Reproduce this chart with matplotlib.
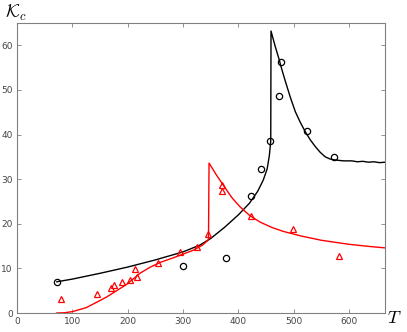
import matplotlib
matplotlib.use("Agg")
import matplotlib.pyplot as plt

plt.rcParams['mathtext.fontset'] = 'cm'

# black model curve (rise, jump at T~459, decay)
t_black = [72, 100, 150, 200, 250, 300, 330, 350, 375, 400, 420, 435, 445, 452, 456, 458.5,
           459, 466, 473, 479, 485, 494, 503, 512, 521, 530, 539, 548, 557, 566, 575,
           590, 605, 615, 625, 635, 645, 655, 665]
k_black = [7.0, 7.6, 8.9, 10.3, 11.9, 13.7, 15.2, 16.7, 19.2, 22.0, 24.6, 27.3, 29.8, 32.3, 35.3, 38.6,
           63.2, 60.0, 57.1, 54.4, 51.9, 48.3, 45.1, 42.7, 40.6, 38.8, 37.3, 36.0, 35.0, 34.5, 34.3,
           34.1, 34.1, 33.9, 34.0, 33.8, 33.9, 33.7, 33.8]

# red model curve (rise, jump at T~347, decay)
t_red = [72, 85, 100, 125, 150, 162, 180, 199, 222, 241, 260, 283, 300, 319, 335, 346,
         347, 360, 373, 388, 403, 421, 439, 460, 481, 512, 550, 600, 638, 665]
k_red = [0.0, 0.05, 0.3, 1.2, 2.8, 3.6, 5.0, 6.5, 8.9, 10.3, 11.4, 12.4, 13.2, 14.1, 15.2, 16.4,
         33.6, 31.0, 28.6, 25.9, 23.8, 21.8, 20.4, 19.2, 18.3, 17.3, 16.3, 15.4, 14.9, 14.6]

# measured points
t_circ = [72, 300, 378, 423, 441, 457, 474, 477, 524, 573]
k_circ = [7.0, 10.5, 12.3, 26.2, 32.3, 38.6, 48.6, 56.3, 40.7, 35.0]

t_tri = [80, 145, 170, 176, 189, 204, 213, 216, 254, 295, 325, 345, 371, 371, 423, 499, 582]
k_tri = [3.1, 4.3, 5.6, 6.3, 6.9, 7.4, 9.8, 8.1, 11.1, 13.6, 14.7, 17.7, 28.6, 27.3, 21.7, 18.8, 12.8]

fig = plt.figure(figsize=(4.07, 3.32), dpi=100)
ax = fig.add_axes([0.0418, 0.0572, 0.9042, 0.8735])

ax.plot(t_black, k_black, color='black', lw=1.0)
ax.plot(t_red, k_red, color='red', lw=1.0)
ax.plot(t_circ, k_circ, 'o', mfc='none', mec='black', ms=4.5, mew=0.9)
ax.plot(t_tri, k_tri, '^', mfc='none', mec='red', ms=5, mew=0.9)

ax.set_xlim(0, 665)
ax.set_ylim(0, 65)
ax.set_xticks(range(0, 700, 100))
ax.set_yticks(range(0, 70, 10))
ax.tick_params(direction='in', top=True, right=True, length=3, width=0.6,
               labelsize=6.5, labelcolor='#444444', color='#808080', pad=3)
for s in ax.spines.values():
    s.set_color('#808080')
    s.set_linewidth(0.8)

fig.text(0.012, 0.93, r'$\mathcal{K}_c$', fontsize=13, va='bottom', ha='left')
fig.text(0.952, 0.016, r'$T$', fontsize=13, va='bottom', ha='left')

fig.savefig('out.png', dpi=100)
